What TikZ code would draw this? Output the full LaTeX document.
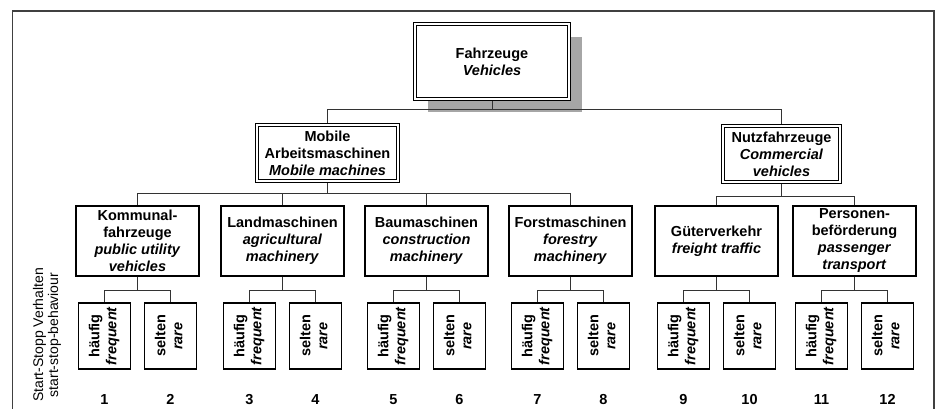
\documentclass[tikz,border=0pt]{standalone}
\usepackage{fontspec}
\setmainfont{Liberation Sans}
\usetikzlibrary{shadows}
\begin{document}
\begin{tikzpicture}[x=1pt,y=-1pt,
  every node/.style={font=\fontsize{14.5}{17}\selectfont\bfseries, align=center, inner sep=0pt},
  box/.style={draw, line width=1.1pt, fill=white, minimum width=123pt, minimum height=70pt},
  sbox/.style={draw, line width=1.1pt, fill=white, minimum width=52pt, minimum height=66pt},
  dbox/.style={draw, line width=1pt, double, double distance=1.8pt, fill=white, outer sep=2.3pt},
  conn/.style={line width=1pt, black!80},
  frame/.style={line width=1.2pt, black!75},
  num/.style={anchor=base},
  sidelabel/.style={font=\fontsize{14}{15}\selectfont\mdseries, rotate=90}]
\useasboundingbox (0,0) rectangle (938,408);
\draw[frame] (12.5,412) -- (12.5,11) -- (934,11) -- (934,412);

% level 1
\node[dbox, minimum width=154pt, minimum height=75pt,
      drop shadow={shadow xshift=13pt, shadow yshift=-13pt, fill=black!35, opacity=1}]
      (top) at (492,61.5) {Fahrzeuge\\\textit{Vehicles}};

% level 2
\node[dbox, minimum width=141pt, minimum height=56pt] (mob) at (327.5,153)
  {Mobile\\Arbeitsmaschinen\\\textit{Mobile machines}};
\node[dbox, minimum width=117pt, minimum height=56pt] (nutz) at (781.5,154)
  {Nutzfahrzeuge\\\textit{Commercial}\\\textit{vehicles}};

% level 3
\node[box] (k) at (137.5,241) {Kommunal-\\fahrzeuge\\\textit{public utility}\\\textit{vehicles}};
\node[box] (l) at (282.5,241) {Landmaschinen\\\textit{agricultural}\\\textit{machinery}};
\node[box] (b) at (426.5,241) {Baumaschinen\\\textit{construction}\\\textit{machinery}};
\node[box] (f) at (570.5,241) {Forstmaschinen\\\textit{forestry}\\\textit{machinery}};
\node[box] (g) at (716.5,241) {Güterverkehr\\\textit{freight traffic}};
\node[box] (p) at (854.5,241) {Personen-\\beförderung\\\textit{passenger}\\\textit{transport}};

% level 4
\foreach \pa/\i/\j in {k/1/2, l/3/4, b/5/6, f/7/8, g/9/10, p/11/12}{
  \node[sbox] (s\i) at ([xshift=-33pt]\pa.center |- 0,336)
    {\rotatebox{90}{\begin{tabular}{@{}c@{}}häufig\\\textit{frequent}\end{tabular}}};
  \node[sbox] (s\j) at ([xshift=33pt]\pa.center |- 0,336)
    {\rotatebox{90}{\begin{tabular}{@{}c@{}}selten\\\textit{rare}\end{tabular}}};
  \draw[conn] (\pa.south) -- ++(0,14) -| (s\i.north);
  \draw[conn] (\pa.south) -- ++(0,14) -| (s\j.north);
  \node[num] (n\i) at (s\i.center |- 0,404) {\i};
  \node[num] (n\j) at (s\j.center |- 0,404) {\j};
}

% connectors
\draw[conn] (top.south) -- ++(0,8) -| (mob.north);
\draw[conn] (top.south) -- ++(0,8) -| (nutz.north);
\foreach \c in {k,l,b,f}{\draw[conn] (mob.south) -- ++(0,10) -| (\c.north);}
\foreach \c in {g,p}{\draw[conn] (nutz.south) -- ++(0,12) -| (\c.north);}

% side label
\node[sidelabel] (side) at (47,335) {Start-Stopp Verhalten\\start-stop-behaviour};
\end{tikzpicture}
\end{document}
